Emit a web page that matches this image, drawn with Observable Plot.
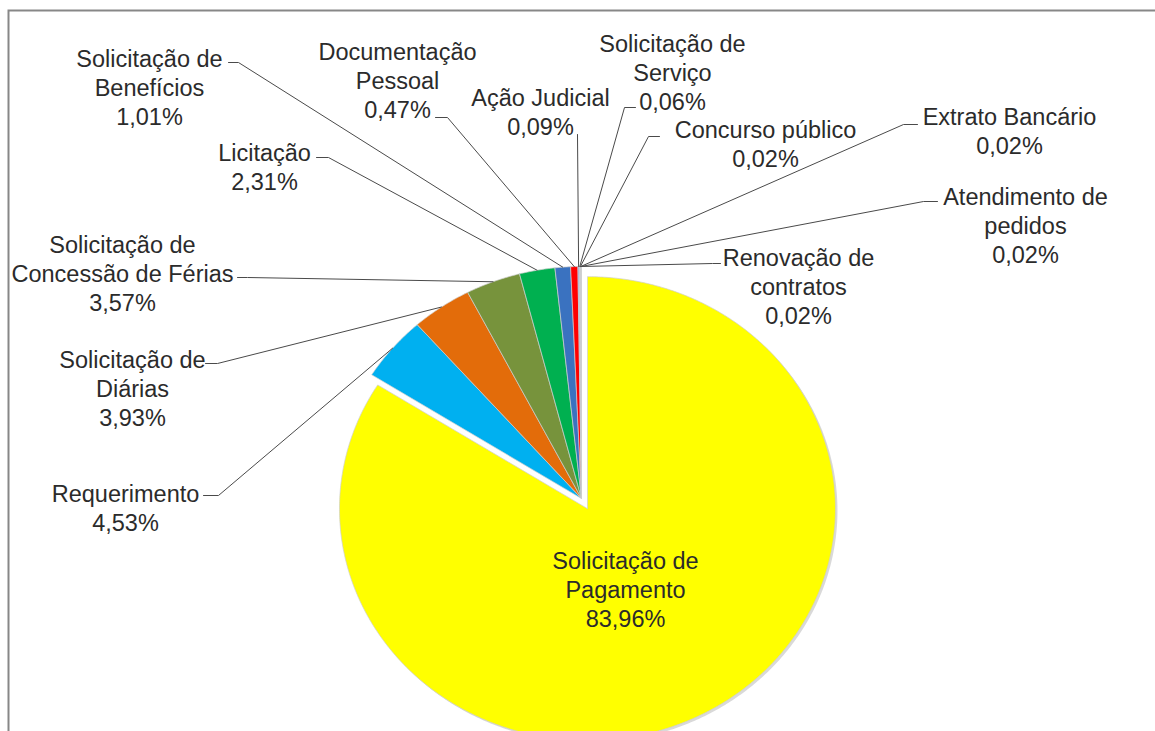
<!DOCTYPE html>
<html><head><meta charset="utf-8">
<script src="https://cdn.jsdelivr.net/npm/d3@7"></script>
<script src="https://cdn.jsdelivr.net/npm/@observablehq/plot@0.6"></script>
<style>html,body{margin:0;padding:0;background:#fff;overflow:hidden}</style>
</head><body><div id="chart"></div>
<script>
// ---------- data ----------
const categories = [
  "Solicitação de Pagamento", "Requerimento", "Solicitação de Diárias",
  "Solicitação de Concessão de Férias", "Licitação", "Solicitação de Benefícios",
  "Documentação Pessoal", "Ação Judicial", "Solicitação de Serviço",
  "Concurso público", "Extrato Bancário", "Atendimento de pedidos",
  "Renovação de contratos"
];
const labelText = [
  "Solicitação de\nPagamento", "Requerimento", "Solicitação de\nDiárias",
  "Solicitação de\nConcessão de Férias", "Licitação", "Solicitação de\nBenefícios",
  "Documentação\nPessoal", "Ação Judicial", "Solicitação de\nServiço",
  "Concurso público", "Extrato Bancário", "Atendimento de\npedidos",
  "Renovação de\ncontratos"
];
const values = [83.96, 4.53, 3.93, 3.57, 2.31, 1.01, 0.47, 0.09, 0.06, 0.02, 0.02, 0.02, 0.02];

// ---------- styles / layout ----------
const colors = ["#FFFF00", "#00B0F0", "#E36C0A", "#77933C", "#00B050", "#3A72C0", "#FF0000",
                "#8EA9DB", "#B4C6E7", "#9DC3E6", "#BDD7EE", "#C9D5EA", "#DDEBF7"];
const explode = [0.05, 0, 0, 0, 0, 0, 0, 0, 0, 0, 0, 0, 0];
const W = 1155, H = 731;
const CX = 581, CY = 498, RX = 248, RY = 232;           // pie centre and radii in pixels
const labelPos = [                                        // label block centres (px)
  [625, 588], [125, 507], [132, 387], [122, 272], [264, 166], [149, 86],
  [397, 79], [540, 111], [672, 71], [765, 143], [1009, 130], [1025, 224], [798, 285]
];
const leaderFrom = [                                      // leader start / elbow (px)
  null,
  [[203, 495], [218, 495]],
  [[205, 363], [217, 363]],
  [[237, 277], [247, 277]],
  [[316, 157], [328, 157]],
  [[228, 62], [238, 62]],
  [[435, 117], [447, 117]],
  [[577, 134]],
  [[635, 107], [624, 107]],
  [[659, 136], [648, 136]],
  [[917, 124], [903, 124]],
  [[937, 201], [923, 201]],
  [[720, 263], [712, 263]]
];
const toX = px => (px - CX) / RX;
const toY = py => (CY - py) / RY;
const fmt = v => v.toFixed(2).replace(".", ",") + "%";

// ---------- geometry from the data ----------
const arcs = d3.pie().sort(null).value(d => d)(values);
const slicePts = [];
const leaders = [];
arcs.forEach((a, i) => {
  const cat = categories[i];
  const mid = (a.startAngle + a.endAngle) / 2;
  const ox = explode[i] * Math.sin(mid), oy = explode[i] * Math.cos(mid);
  const n = Math.max(2, Math.ceil((a.endAngle - a.startAngle) / (Math.PI / 360)));
  slicePts.push({cat, x: ox, y: oy});
  for (let k = 0; k <= n; k++) {
    const t = a.startAngle + (a.endAngle - a.startAngle) * k / n;
    slicePts.push({cat, x: ox + Math.sin(t), y: oy + Math.cos(t)});
  }
  slicePts.push({cat, x: ox, y: oy});
  if (leaderFrom[i]) {
    leaderFrom[i].forEach(([px, py]) => leaders.push({cat, x: toX(px), y: toY(py)}));
    leaders.push({cat, x: ox + Math.sin(mid), y: oy + Math.cos(mid)});
  }
});
const labels = categories.map((c, i) => ({
  cat: c, text: labelText[i] + "\n" + fmt(values[i]),
  x: toX(labelPos[i][0]), y: toY(labelPos[i][1])
}));

const chart = Plot.plot({
  width: W, height: H,
  marginTop: 0, marginRight: 0, marginBottom: 0, marginLeft: 0,
  x: {domain: [toX(0), toX(W)], axis: null},
  y: {domain: [toY(H), toY(0)], axis: null},
  color: {domain: categories, range: colors},
  style: {background: "#fff", overflow: "hidden"},
  marks: [
    Plot.frame({stroke: "#878787", strokeWidth: 2, insetLeft: 8, insetTop: 10, insetRight: -40, insetBottom: -40}),
    Plot.line(slicePts.filter(d => d.cat === categories[0]), {x: "x", y: "y", z: "cat", fill: "#000", fillOpacity: 0.15, stroke: "none", dx: 2, dy: 2}),
    Plot.line(slicePts, {x: "x", y: "y", z: "cat", fill: "cat", stroke: "#cfcfcf", strokeWidth: 0.7, strokeLinejoin: "round"}),
    Plot.line(leaders, {x: "x", y: "y", z: "cat", stroke: "#4a4a4a", strokeWidth: 1}),
    Plot.text(labels, {x: "x", y: "y", text: "text", textAnchor: "middle", lineAnchor: "middle",
      lineHeight: 1.234, fontSize: 23.5, fontFamily: "Liberation Sans", fill: "#2b2b2b"})
  ]
});
document.getElementById("chart").appendChild(chart);
</script>
</body></html>
